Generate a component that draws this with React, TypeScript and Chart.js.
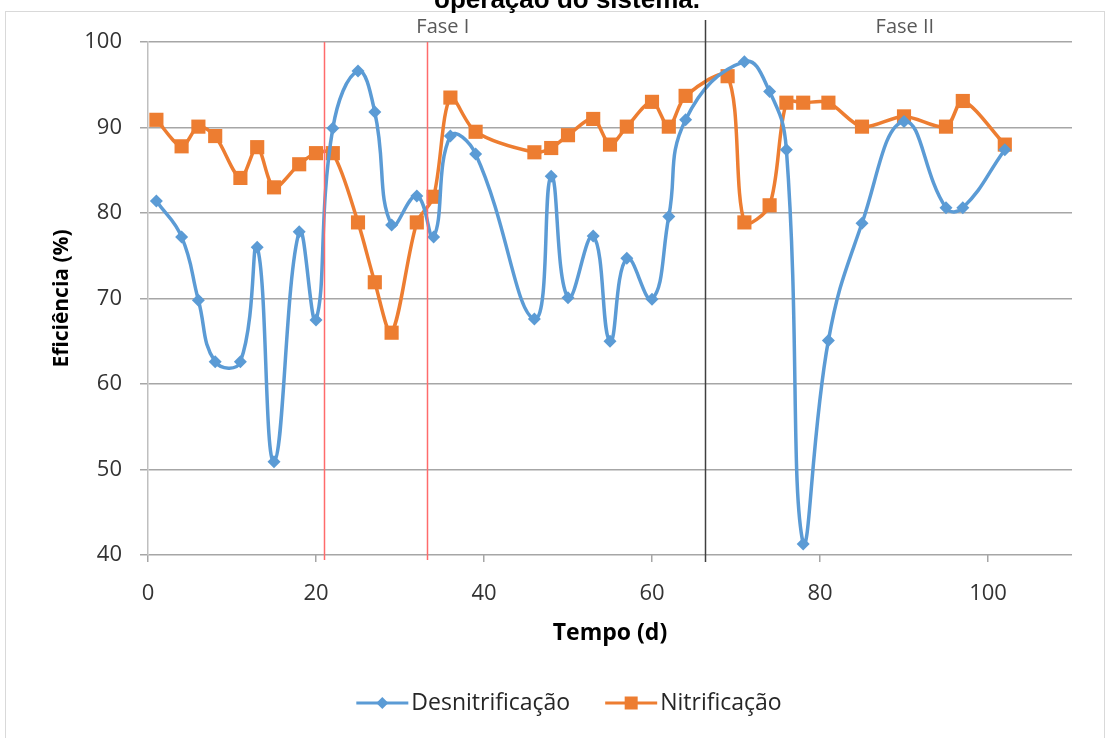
import React, { useEffect, useRef } from "react";
import { Chart, registerables } from "chart.js";

Chart.register(...registerables);

const titleText = "operação do sistema.";
const xTitle = "Tempo (d)";
const yTitle = "Eficiência (%)";

const desnDays = [1, 4, 6, 8, 11, 13, 15, 18, 20, 22, 25, 27, 29, 32, 34, 36, 39, 46, 48, 50, 53, 55, 57, 60, 62, 64, 71, 74, 76, 78, 81, 85, 90, 95, 97, 102];
const desnitrificacao = [81.4, 77.2, 69.8, 62.6, 62.6, 76.0, 50.9, 77.8, 67.5, 89.9, 96.6, 91.8, 78.6, 82.0, 77.2, 89.0, 86.9, 67.6, 84.3, 70.1, 77.3, 65.0, 74.7, 69.9, 79.6, 90.9, 97.7, 94.2, 87.4, 41.3, 65.1, 78.8, 90.7, 80.6, 80.6, 87.4];

const nitrDays = [1, 4, 6, 8, 11, 13, 15, 18, 20, 22, 25, 27, 29, 32, 34, 36, 39, 46, 48, 50, 53, 55, 57, 60, 62, 64, 69, 71, 74, 76, 78, 81, 85, 90, 95, 97, 102];
const nitrificacao = [90.9, 87.8, 90.1, 89.0, 84.1, 87.7, 83.0, 85.7, 87.0, 87.0, 78.9, 71.9, 66.0, 78.9, 81.9, 93.5, 89.5, 87.1, 87.6, 89.1, 91.0, 88.0, 90.1, 93.0, 90.1, 93.7, 96.0, 78.9, 80.9, 92.9, 92.9, 92.9, 90.1, 91.3, 90.1, 93.1, 88.0];

const seriesNames = ["Desnitrificação", "Nitrificação"];
const redLines = [21, 33.2];
const phaseLine = 66.3;
const phaseLabels = [
  { text: "Fase I", x: 35.1 },
  { text: "Fase II", x: 90.1 },
];

const xMin = 0, xMax = 110, xStep = 20;
const yMin = 40, yMax = 100, yStep = 10;

const BLUE = "#5B9BD5";
const ORANGE = "#ED7D31";
const FONT = "'Open Sans', 'Liberation Sans', sans-serif";

const decorPlugin = {
  id: "decor",
  beforeDraw(chart: any) {
    const ctx = chart.ctx;
    ctx.save();
    ctx.fillStyle = "#ffffff";
    ctx.fillRect(0, 0, chart.width, chart.height);
    ctx.strokeStyle = "#D9D9D9";
    ctx.lineWidth = 1;
    ctx.strokeRect(5.5, 11.5, chart.width - 11, chart.height + 10);
    ctx.restore();
  },
  afterDatasetsDraw(chart: any) {
    const ctx = chart.ctx;
    const xs = chart.scales.x;
    const area = chart.chartArea;
    ctx.save();
    ctx.strokeStyle = "#FF6B6B";
    ctx.lineWidth = 1.5;
    redLines.forEach((v) => {
      const px = Math.round(xs.getPixelForValue(v)) + 0.5;
      ctx.beginPath();
      ctx.moveTo(px, area.top);
      ctx.lineTo(px, area.bottom + 5);
      ctx.stroke();
    });
    ctx.strokeStyle = "#404040";
    ctx.lineWidth = 1.5;
    const bx = Math.round(xs.getPixelForValue(phaseLine)) + 0.5;
    ctx.beginPath();
    ctx.moveTo(bx, area.top - 22);
    ctx.lineTo(bx, area.bottom + 7);
    ctx.stroke();
    ctx.fillStyle = "#595959";
    ctx.font = `20px ${FONT}`;
    ctx.textAlign = "center";
    ctx.textBaseline = "middle";
    phaseLabels.forEach((p) => {
      ctx.fillText(p.text, xs.getPixelForValue(p.x), area.top - 15);
    });
    ctx.restore();
  },
  afterDraw(chart: any) {
    const ctx = chart.ctx;
    ctx.save();
    ctx.fillStyle = "#000000";
    ctx.font = `bold 26px 'Liberation Sans', Arial, sans-serif`;
    ctx.textAlign = "center";
    ctx.textBaseline = "alphabetic";
    ctx.fillText(titleText, chart.width / 2 + 12, 8);

    ctx.font = `23px ${FONT}`;
    ctx.textBaseline = "middle";
    ctx.textAlign = "left";
    const lineLen = 52;
    const gapText = 3;
    const gapItems = 35;
    const widths = seriesNames.map((n) => ctx.measureText(n).width);
    const total = widths.reduce((a, w) => a + lineLen + gapText + w, 0) + gapItems;
    let x = chart.width / 2 + 14 - total / 2;
    const y = 703;
    chart.data.datasets.forEach((ds: any, i: number) => {
      ctx.strokeStyle = ds.borderColor;
      ctx.lineWidth = 3;
      ctx.beginPath();
      ctx.moveTo(x, y);
      ctx.lineTo(x + lineLen, y);
      ctx.stroke();
      ctx.fillStyle = ds.backgroundColor;
      const cx = x + lineLen / 2;
      ctx.beginPath();
      if (ds.pointStyle === "rect") {
        ctx.rect(cx - 6.5, y - 6.5, 13, 13);
      } else {
        ctx.moveTo(cx, y - 6);
        ctx.lineTo(cx + 6, y);
        ctx.lineTo(cx, y + 6);
        ctx.lineTo(cx - 6, y);
        ctx.closePath();
      }
      ctx.fill();
      ctx.fillStyle = "#262626";
      ctx.fillText(seriesNames[i], x + lineLen + gapText, y);
      x += lineLen + gapText + widths[i] + gapItems;
    });
    ctx.restore();
  },
};

export default function App() {
  const ref = useRef<HTMLCanvasElement>(null);
  useEffect(() => {
    document.body.style.margin = "0";
    const canvas = ref.current!;
    const chart = new Chart(canvas, {
      type: "line",
      data: {
        datasets: [
          {
            label: seriesNames[0],
            data: desnDays.map((d, i) => ({ x: d, y: desnitrificacao[i] })),
            borderColor: BLUE,
            backgroundColor: BLUE,
            borderWidth: 3.5,
            pointStyle: "rectRot",
            pointRadius: 6.5,
            pointBorderWidth: 0,
            tension: 0.45,
          },
          {
            label: seriesNames[1],
            data: nitrDays.map((d, i) => ({ x: d, y: nitrificacao[i] })),
            borderColor: ORANGE,
            backgroundColor: ORANGE,
            borderWidth: 3.5,
            pointStyle: "rect",
            pointRadius: 10,
            pointBorderWidth: 0,
            tension: 0.3,
          },
        ],
      },
      options: {
        responsive: false,
        animation: false,
        layout: { padding: { left: 0, right: 38, top: 42, bottom: 0 } },
        plugins: {
          legend: { display: false },
          title: { display: false },
          tooltip: { enabled: false },
        },
        scales: {
          x: {
            type: "linear",
            min: xMin,
            max: xMax,
            ticks: {
              stepSize: xStep,
              color: "#333333",
              font: { family: FONT, size: 22 },
              padding: 19,
              maxRotation: 0,
            },
            afterBuildTicks: (s: any) => {
              s.ticks = s.ticks.filter((t: any) => t.value % xStep === 0);
            },
            afterFit: (s: any) => {
              s.height = 183;
            },
            grid: {
              drawOnChartArea: false,
              drawTicks: true,
              tickLength: 7,
              color: "#A6A6A6",
              lineWidth: 1.5,
            },
            border: { display: false },
            title: {
              display: true,
              text: xTitle,
              color: "#000000",
              font: { family: FONT, size: 23, weight: "bold" },
              padding: { top: 0, bottom: 91 },
            },
          },
          y: {
            min: yMin,
            max: yMax,
            ticks: {
              stepSize: yStep,
              color: "#333333",
              font: { family: FONT, size: 22 },
              padding: 18,
            },
            afterFit: (s: any) => {
              s.width = 148;
            },
            grid: {
              color: "#A6A6A6",
              lineWidth: 1.5,
              tickLength: 8,
            },
            border: { display: true, color: "#BFBFBF", width: 1.5 },
            title: {
              display: true,
              text: yTitle,
              color: "#000000",
              font: { family: FONT, size: 21, weight: "bold" },
              padding: { top: 49, bottom: 0 },
            },
          },
        },
      },
      plugins: [decorPlugin],
    });
    return () => chart.destroy();
  }, []);
  return (
    <div style={{ position: "absolute", left: 0, top: 0, width: 1110, height: 738, overflow: "hidden" }}>
      <canvas ref={ref} width={1110} height={738} style={{ display: "block" }} />
    </div>
  );
}
